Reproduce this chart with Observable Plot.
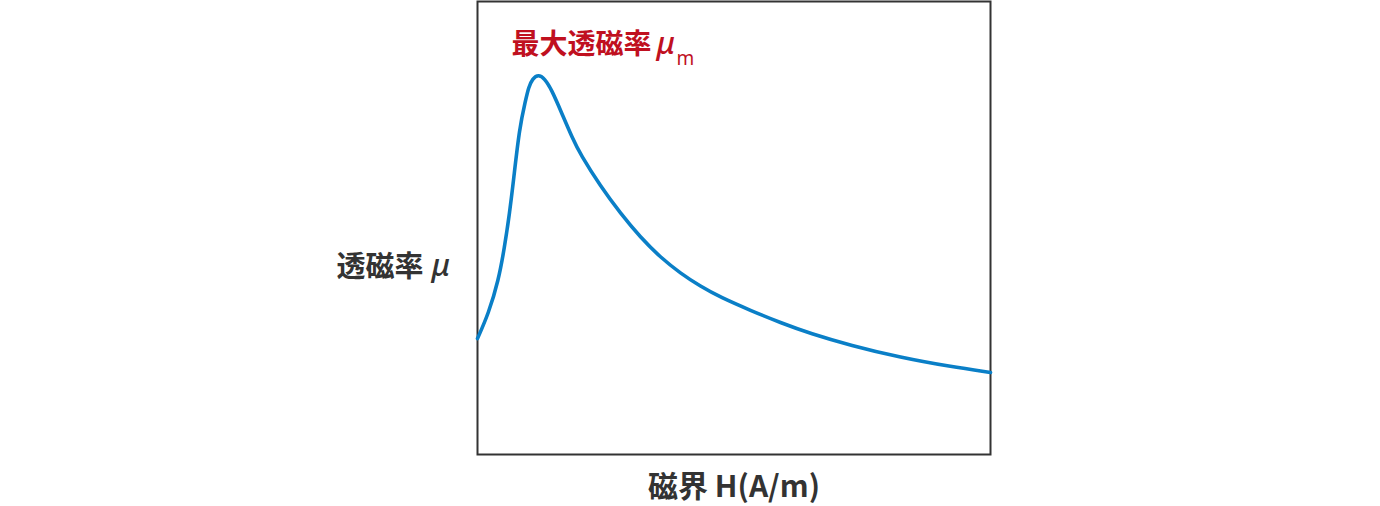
<!DOCTYPE html>
<html>
<head>
<meta charset="utf-8">
<script src="https://cdn.jsdelivr.net/npm/d3@7"></script>
<script src="https://cdn.jsdelivr.net/npm/@observablehq/plot@0.6"></script>
<style>
  html, body { margin: 0; padding: 0; background: #fff; }
</style>
</head>
<body>
<div id="chart"></div>
<script>
// Magnetic field H (arbitrary units, 0–100)
const fieldH = [0, 2.14, 4.09, 5.26, 6.24, 7.02, 8.19, 9.36, 9.94, 10.72, 11.89, 13.06, 14.42, 16.37, 18.52, 20.08, 23.98, 27.88, 31.77, 35.67, 39.57, 43.47, 47.37, 53.22, 59.06, 64.91, 72.71, 82.46, 92.20, 100];
// Permeability μ (arbitrary units, 0–100)
const permeability = [25.6, 31.1, 38.4, 45.7, 53.2, 60.5, 72.2, 78.1, 81.0, 83.0, 83.9, 83.0, 80.6, 75.5, 69.8, 66.2, 59.2, 53.2, 47.9, 43.5, 40.0, 37.1, 34.7, 31.8, 29.1, 26.7, 24.1, 21.4, 19.4, 18.1];

const xLabel = "磁界 H(A/m)";
const yLabelText = "透磁率";
const peakLabelText = "最大透磁率";
const muSymbol = "μ";
const peakSub = "m";

const data = fieldH.map((h, i) => ({h, mu: permeability[i]}));

const cjk = "'Noto Sans CJK JP', 'Noto Sans', sans-serif";
const latin = "'Noto Sans', 'DejaVu Sans', sans-serif";
const dark = "#333333";
const red = "#c0101f";
const blue = "#0a7fc7";

const chart = Plot.plot({
  width: 1380,
  height: 506,
  marginLeft: 477,
  marginRight: 390,
  marginTop: 1,
  marginBottom: 52,
  x: {domain: [0, 100], axis: null},
  y: {domain: [0, 100], axis: null},
  style: {fontFamily: cjk, background: "#fff"},
  marks: [
    Plot.frame({stroke: dark, strokeWidth: 2}),
    Plot.line(data, {x: "h", y: "mu", curve: "basis", stroke: blue, strokeWidth: 3.6}),
    // y label
    Plot.text([yLabelText], {frameAnchor: "left", textAnchor: "end", lineAnchor: "middle", dx: -54, dy: 40, fontSize: 29, fontWeight: "bold", fill: dark, fontFamily: cjk}),
    Plot.text([muSymbol], {frameAnchor: "left", textAnchor: "start", lineAnchor: "middle", dx: -46, dy: 38, fontSize: 31, fontStyle: "italic", fontWeight: 500, fill: dark, fontFamily: latin}),
    // peak label
    Plot.text([peakLabelText], {frameAnchor: "top-left", textAnchor: "start", lineAnchor: "middle", dx: 34, dy: 44, fontSize: 28, fontWeight: "bold", fill: red, fontFamily: cjk}),
    Plot.text([muSymbol], {frameAnchor: "top-left", textAnchor: "start", lineAnchor: "middle", dx: 179, dy: 43, fontSize: 31, fontStyle: "italic", fontWeight: 500, fill: red, fontFamily: latin}),
    Plot.text([peakSub], {frameAnchor: "top-left", textAnchor: "start", lineAnchor: "middle", dx: 199, dy: 57, fontSize: 19, fill: red, fontFamily: latin}),
    // x label
    Plot.text([xLabel], {frameAnchor: "bottom", textAnchor: "middle", lineAnchor: "middle", dy: 33, fontSize: 30, fontWeight: "bold", fill: dark, fontFamily: cjk})
  ]
});
document.getElementById("chart").appendChild(chart);
</script>
</body>
</html>
